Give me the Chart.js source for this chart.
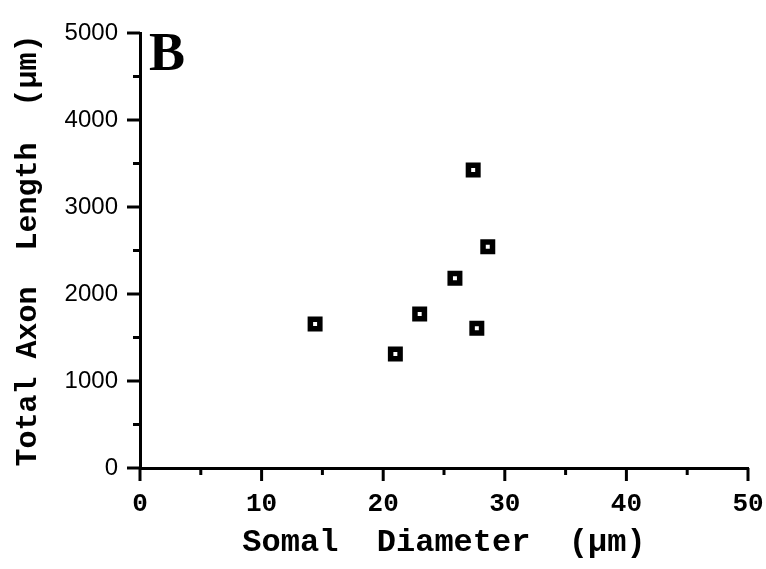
<!DOCTYPE html>
<html>
<head>
<meta charset="utf-8">
<script src="https://cdn.jsdelivr.net/npm/chart.js@4/dist/chart.umd.min.js"></script>
<style>
  html, body { margin: 0; padding: 0; background: #fff; }
  #wrap { width: 766px; height: 569px; position: relative; }
</style>
</head>
<body>
<div id="wrap"><canvas id="scatterChart"></canvas></div>
<script>
// somal diameter (um) vs total axon length (um)
const somalDiameter = [14.4, 21.0, 23.0, 25.9, 27.4, 27.7, 28.6];
const axonLength = [1655, 1310, 1770, 2180, 3425, 1606, 2544];

const xTicks = [0, 10, 20, 30, 40, 50];
const yTicks = [0, 1000, 2000, 3000, 4000, 5000];
const xMinorTicks = [5, 15, 25, 35, 45];
const yMinorTicks = [500, 1500, 2500, 3500, 4500];

const panelLabel = "B";
const xTitle = "Somal  Diameter  (µm)";
const yTitle = "Total Axon  Length  (µm)";

const points = somalDiameter.map((x, i) => ({ x: x, y: axonLength[i] }));

// tick marks: long ones at labels, short ones between
const tickMarks = {
  id: "tickMarks",
  afterDraw: (chart) => {
    const { ctx } = chart;
    const xs = chart.scales.x;
    const ys = chart.scales.y;
    const baseY = ys.getPixelForValue(0);
    const baseX = xs.getPixelForValue(0);

    ctx.save();
    ctx.strokeStyle = "#000";
    ctx.lineWidth = 3;
    ctx.lineCap = "butt";

    const drawX = (v, len) => {
      const px = xs.getPixelForValue(v);
      ctx.beginPath();
      ctx.moveTo(px, baseY);
      ctx.lineTo(px, baseY + len);
      ctx.stroke();
    };
    const drawY = (v, len) => {
      const py = ys.getPixelForValue(v);
      ctx.beginPath();
      ctx.moveTo(baseX, py);
      ctx.lineTo(baseX - len, py);
      ctx.stroke();
    };

    xTicks.forEach((v) => drawX(v, 13));
    xMinorTicks.forEach((v) => drawX(v, 7));
    yTicks.forEach((v) => drawY(v, 13));
    yMinorTicks.forEach((v) => drawY(v, 7));

    // panel letter
    ctx.fillStyle = "#000";
    ctx.font = "bold 54px 'Liberation Serif', serif";
    ctx.textAlign = "left";
    ctx.textBaseline = "alphabetic";
    ctx.fillText(panelLabel, baseX + 9, ys.getPixelForValue(5000) + 37);
    ctx.restore();
  },
};

const ctx = document.getElementById("scatterChart").getContext("2d");

new Chart(ctx, {
  type: "scatter",
  data: {
    datasets: [
      {
        data: points,
        pointStyle: "rect",
        pointRadius: 6.7,
        pointHoverRadius: 6.7,
        borderWidth: 5.5,
        borderColor: "#000",
        backgroundColor: "#fff",
      },
    ],
  },
  options: {
    responsive: true,
    maintainAspectRatio: false,
    animation: false,
    events: [],
    layout: { padding: { top: 33, right: 18, left: 0, bottom: 0 } },
    scales: {
      x: {
        type: "linear",
        min: 0,
        max: 50,
        afterBuildTicks: (scale) => {
          scale.ticks = xTicks.map((v) => ({ value: v }));
        },
        afterFit: (scale) => {
          scale.height = 101;
          scale.paddingLeft = 0;
          scale.paddingRight = 0;
        },
        grid: { display: false, drawTicks: false },
        border: { display: true, color: "#000", width: 3 },
        ticks: {
          color: "#000",
          padding: 21,
          maxRotation: 0,
          autoSkip: false,
          callback: (v) => String(v),
          font: { family: "'Liberation Mono', monospace", size: 26, weight: "bold" },
        },
        title: {
          display: true,
          text: xTitle,
          color: "#000",
          padding: { top: 0, bottom: 7 },
          font: { family: "'Liberation Mono', monospace", size: 32, weight: "bold" },
        },
      },
      y: {
        type: "linear",
        min: 0,
        max: 5000,
        afterBuildTicks: (scale) => {
          scale.ticks = yTicks.map((v) => ({ value: v }));
        },
        afterFit: (scale) => {
          scale.width = 140;
          scale.paddingTop = 0;
          scale.paddingBottom = 0;
        },
        grid: { display: false, drawTicks: false },
        border: { display: true, color: "#000", width: 3 },
        ticks: {
          color: "#000",
          padding: 22,
          autoSkip: false,
          callback: (v) => String(v),
          font: { family: "'Liberation Sans', sans-serif", size: 24 },
        },
        title: {
          display: true,
          text: yTitle,
          color: "#000",
          padding: { top: 10, bottom: 0 },
          font: { family: "'Liberation Mono', monospace", size: 30, weight: "bold" },
        },
      },
    },
    plugins: {
      legend: { display: false },
      tooltip: { enabled: false },
    },
  },
  plugins: [tickMarks],
});
</script>
</body>
</html>
